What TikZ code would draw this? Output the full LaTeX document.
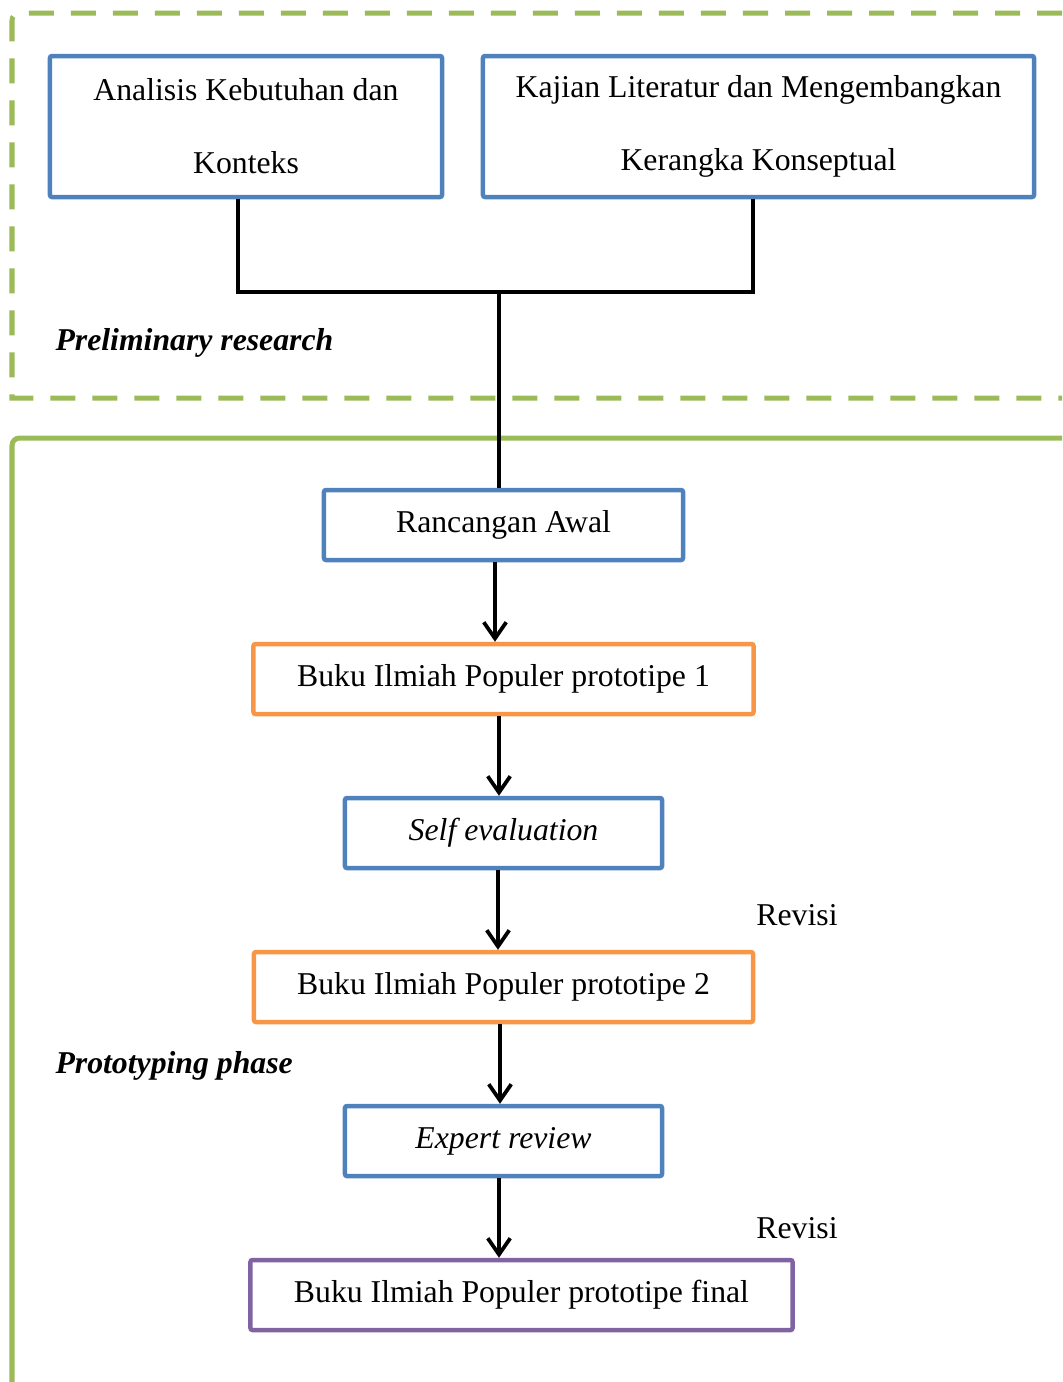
\documentclass[tikz,border=0pt]{standalone}
\usepackage{fontspec}
\setmainfont{Liberation Serif}
\usetikzlibrary{arrows.meta,positioning}
\definecolor{boxblue}{HTML}{4F81BD}
\definecolor{boxorange}{HTML}{F79646}
\definecolor{boxpurple}{HTML}{8064A2}
\definecolor{framegreen}{HTML}{9BBB59}
\tikzset{main box/.style={rectangle,draw=boxblue,line width=1.8pt,rounded corners=0.8pt,minimum height=28pt,inner sep=2pt,font=\fontsize{12.7}{15}\selectfont},
         proto box/.style={main box,draw=boxorange},
         final box/.style={main box,draw=boxpurple},
         top box/.style={main box,minimum height=56.4pt,align=center,font=\fontsize{12.7}{29.2}\selectfont},
         phase label/.style={anchor=west,inner sep=0pt,font=\fontsize{12.7}{15}\selectfont\bfseries\itshape},
         side label/.style={inner sep=0pt,font=\fontsize{12.7}{15}\selectfont},
         link/.style={line width=1.5pt},
         flow arrow/.style={link,-{Straight Barb[length=6.5pt,width=9pt]}}
}
\begin{document}
\begin{tikzpicture}[x=0.4pt,y=-0.4pt,node distance=31.8pt]
\useasboundingbox (0,0) rectangle (1062,1382);
% frames
\draw[framegreen,line width=2pt,dash pattern=on 10pt off 6.8pt] (1062,13) [rounded corners=3pt]-- (12,13) -- (12,100) [sharp corners]-- (12,398) -- (1062,398);
\draw[framegreen,line width=2pt,rounded corners=3pt] (1062,438) -- (12,438) -- (12,1382);
% preliminary research
\node[top box,minimum width=156.8pt] (analisis) at (246,126.5) {Analisis Kebutuhan dan\\Konteks};
\node[top box,minimum width=220.4pt] (kajian) at (758.5,126.5) {Kajian Literatur dan Mengembangkan\\Kerangka Konseptual};
\node[phase label] (prelim) at (55,343) {Preliminary research};
% prototyping phase
\node[main box,minimum width=143.6pt] (awal) at (503.5,525) {Rancangan Awal};
\node[proto box,minimum width=200pt,below=of awal] (proto1) {Buku Ilmiah Populer prototipe 1};
\node[main box,minimum width=126.8pt,below=of proto1] (self) {\itshape Self evaluation};
\node[proto box,minimum width=199.6pt,below=of self] (proto2) {Buku Ilmiah Populer prototipe 2};
\node[main box,minimum width=126.8pt,below=of proto2] (expert) {\itshape Expert review};
\node[final box,minimum width=216.8pt,below=of expert,xshift=7.2pt] (final) {Buku Ilmiah Populer prototipe final};
\node[phase label] (proto) at (55,1066) {Prototyping phase};
\node[side label] (revisi1) at (797,915) {Revisi};
\node[side label] (revisi2) at (797,1228) {Revisi};
% connectors
\coordinate (join) at (499,292);
\coordinate (col1) at (495,0);
\coordinate (col2) at (499,0);
\coordinate (col3) at (498,0);
\coordinate (col4) at (500,0);
\draw[link] ([xshift=-3.2pt]analisis.south) |- (join) -| ([xshift=-2.2pt]kajian.south);
\draw[link] (join) -- (awal.north -| join);
\draw[flow arrow] (awal.south -| col1) -- (proto1.north -| col1);
\draw[flow arrow] (proto1.south -| col2) -- (self.north -| col2);
\draw[flow arrow] (self.south -| col3) -- (proto2.north -| col3);
\draw[flow arrow] (proto2.south -| col4) -- (expert.north -| col4);
\draw[flow arrow] (expert.south -| col2) -- (final.north -| col2);
\end{tikzpicture}
\end{document}
